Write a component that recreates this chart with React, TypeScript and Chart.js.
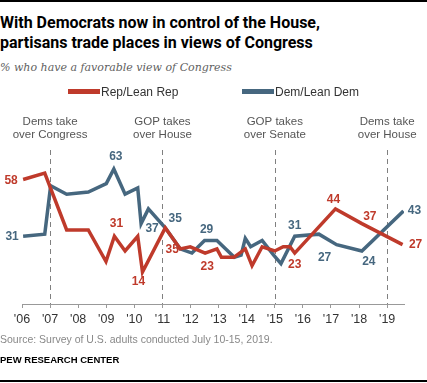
import React, { useEffect, useRef } from "react";
import { Chart, registerables } from "chart.js";

Chart.register(...registerables);

// ---- Data ----
const repDates = [2006.04, 2006.81, 2007.59, 2008.36, 2008.99, 2009.29, 2009.67, 2010.12, 2010.29, 2011.1, 2011.63, 2011.99, 2012.52, 2012.94, 2013.1, 2013.54, 2013.95, 2014.19, 2014.55, 2015.0, 2015.3, 2015.54, 2015.71, 2017.16, 2018.1, 2019.55];
const repValues = [58, 61, 34, 34, 19, 31, 24, 31, 14, 35, 25, 26, 23, 25, 21, 21, 25, 17, 26, 24, 26, 26, 23, 44, 37, 27];
const demDates = [2006.04, 2006.81, 2007.02, 2007.59, 2008.36, 2009.0, 2009.27, 2009.67, 2010.12, 2010.24, 2010.5, 2011.1, 2011.63, 2012.05, 2012.5, 2012.94, 2013.56, 2013.8, 2013.95, 2014.14, 2014.55, 2014.96, 2015.22, 2015.71, 2016.57, 2017.2, 2018.1, 2019.58];
const demValues = [31, 32, 55, 51, 52, 56, 63, 51, 54, 37, 44, 35, 25, 23, 29, 29, 21, 22, 30, 26, 29, 22, 18, 31, 32, 27, 24, 43];
const tickYears = [2006, 2007, 2008, 2009, 2010, 2011, 2012, 2013, 2014, 2015, 2016, 2017, 2018, 2019];
const seriesNames = ["Rep/Lean Rep", "Dem/Lean Dem"];
const eventYears = [2007, 2011, 2015, 2019];
const eventTexts = [
  ["Dems take", "over Congress"],
  ["GOP takes", "over House"],
  ["GOP takes", "over Senate"],
  ["Dems take", "over House"],
];
const repLabelIdx = [0, 5, 8, 9, 12, 22, 23, 24, 25];
const demLabelIdx = [0, 6, 9, 11, 14, 23, 25, 26, 27];

// ---- Styles ----
const RED = "#BF3A2B";
const BLUE = "#46677F";
const repLabelOffsets = [[-12, 1], [2, -13], [-4, 10], [7, 22], [2, 14], [0, 12], [-2, -9], [8, -7], [13, 0]];
const demLabelOffsets = [[-11, 0], [2, -12], [11, 5], [10, -9], [2, -11], [0, -11], [-12, 13], [7, 11], [11, 0]];
const SANS = "'Liberation Sans', Arial, sans-serif";

const overlay = {
  id: "overlay",
  beforeDatasetsDraw(chart: any) {
    const { ctx, chartArea, scales } = chart;
    const x = scales.x;
    ctx.save();
    ctx.strokeStyle = "#808080";
    ctx.lineWidth = 1;
    ctx.setLineDash([5, 4]);
    eventYears.forEach((yr) => {
      const px = Math.round(x.getPixelForValue(yr)) + 0.5;
      ctx.beginPath();
      ctx.moveTo(px, chartArea.top);
      ctx.lineTo(px, chartArea.bottom);
      ctx.stroke();
    });
    ctx.setLineDash([]);
    ctx.fillStyle = "#555";
    ctx.font = `11.5px ${SANS}`;
    ctx.textAlign = "center";
    ctx.textBaseline = "middle";
    eventYears.forEach((yr, i) => {
      const px = x.getPixelForValue(yr);
      ctx.fillText(eventTexts[i][0], px, chartArea.top - 28);
      ctx.fillText(eventTexts[i][1], px, chartArea.top - 15);
    });
    ctx.restore();
  },
  afterDatasetsDraw(chart: any) {
    const { ctx, scales } = chart;
    const x = scales.x;
    const y = scales.y;
    ctx.save();
    ctx.font = `bold 12px ${SANS}`;
    ctx.textAlign = "center";
    ctx.textBaseline = "middle";
    ctx.fillStyle = RED;
    repLabelIdx.forEach((idx, k) => {
      const [dx, dy] = repLabelOffsets[k];
      ctx.fillText(String(repValues[idx]), x.getPixelForValue(repDates[idx]) + dx, y.getPixelForValue(repValues[idx]) + dy);
    });
    ctx.fillStyle = BLUE;
    demLabelIdx.forEach((idx, k) => {
      const [dx, dy] = demLabelOffsets[k];
      ctx.fillText(String(demValues[idx]), x.getPixelForValue(demDates[idx]) + dx, y.getPixelForValue(demValues[idx]) + dy);
    });
    // legend
    const legendY = 92;
    const legendX = [68, 242];
    ctx.font = `12px ${SANS}`;
    ctx.textAlign = "left";
    chart.data.datasets.forEach((ds: any, i: number) => {
      ctx.fillStyle = ds.borderColor;
      ctx.fillRect(legendX[i], legendY - 3, 32, 5);
      ctx.fillStyle = "#333";
      ctx.fillText(ds.label, legendX[i] + 33, legendY + 1);
    });
    ctx.restore();
  },
};

export default function App() {
  const ref = useRef<HTMLCanvasElement>(null);
  useEffect(() => {
    if (!ref.current) return;
    const chart = new Chart(ref.current, {
      type: "line",
      data: {
        datasets: [
          {
            label: seriesNames[0],
            data: repDates.map((d, i) => ({ x: d, y: repValues[i] })),
            borderColor: RED,
            backgroundColor: RED,
            borderWidth: 3.5,
            pointRadius: 0,
            tension: 0,
            borderJoinStyle: "miter",
          },
          {
            label: seriesNames[1],
            data: demDates.map((d, i) => ({ x: d, y: demValues[i] })),
            borderColor: BLUE,
            backgroundColor: BLUE,
            borderWidth: 3.5,
            pointRadius: 0,
            tension: 0,
            borderJoinStyle: "miter",
          },
        ],
      },
      options: {
        responsive: false,
        animation: false,
        layout: { padding: { left: 22, right: 23, top: 150, bottom: 52 } },
        plugins: { legend: { display: false }, tooltip: { enabled: false }, title: { display: false } },
        scales: {
          x: {
            type: "linear",
            min: 2006,
            max: 2019.6,
            afterBuildTicks: (scale: any) => {
              scale.ticks = tickYears.map((v) => ({ value: v }));
            },
            grid: { display: true, drawOnChartArea: false, drawTicks: true, tickLength: 4, color: "#999" },
            border: { display: true, color: "#999", width: 1 },
            ticks: {
              padding: 4,
              color: "#333",
              font: { family: SANS, size: 12.5 },
              maxRotation: 0,
              autoSkip: false,
              callback: (v: any) => "'" + String(v).slice(2),
            },
          },
          y: { display: false, min: -1.2, max: 72 },
        },
      },
      plugins: [overlay],
    });
    return () => chart.destroy();
  }, []);

  const abs = (top: number, extra: any = {}) => ({ position: "absolute" as const, left: 0, top, margin: 0, whiteSpace: "nowrap" as const, ...extra });

  return (
    <div style={{ position: "fixed", left: 0, top: 0, width: 427, height: 383, background: "#fff", overflow: "hidden" }}>
      <div style={{ position: "absolute", left: 0, top: 0, width: 427, height: 2, background: "#000" }} />
      <div style={abs(13, { fontFamily: "Roboto, sans-serif", fontWeight: 700, fontSize: 16, lineHeight: "20px", color: "#000" })}>
        With Democrats now in control of the House,<br />partisans trade places in views of Congress
      </div>
      <div style={abs(59, { fontFamily: "'DejaVu Serif', serif", fontStyle: "italic", fontSize: 11, lineHeight: "18px", color: "#5f5f5f" })}>
        % who have a favorable view of Congress
      </div>
      <canvas ref={ref} width={427} height={383} style={{ position: "absolute", left: 0, top: 0 }} />
      <div style={abs(331, { fontFamily: SANS, fontSize: 10.5, lineHeight: "16px", color: "#888" })}>
        Source: Survey of U.S. adults conducted July 10-15, 2019.
      </div>
      <div style={abs(353, { fontFamily: SANS, fontWeight: 700, fontSize: 9.5, lineHeight: "14px", color: "#000" })}>
        PEW RESEARCH CENTER
      </div>
      <div style={{ position: "absolute", left: 0, top: 380, width: 427, height: 2, background: "#000" }} />
    </div>
  );
}
